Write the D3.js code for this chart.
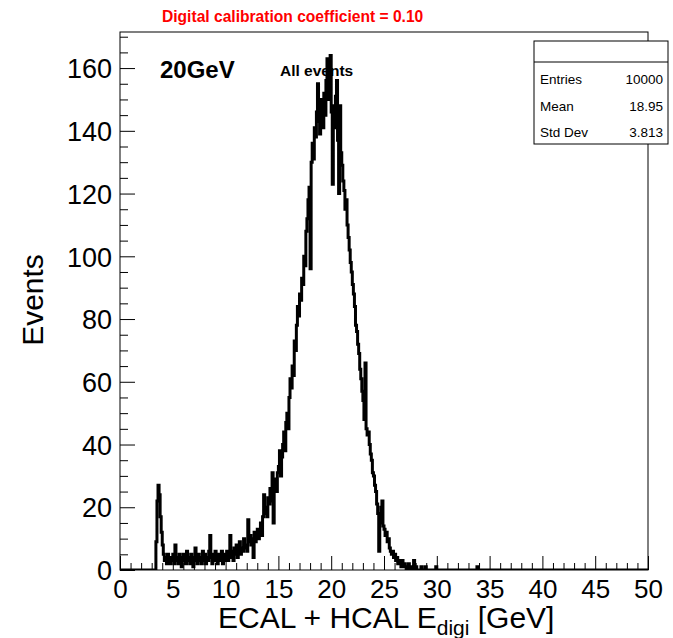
<!DOCTYPE html>
<html><head><meta charset="utf-8">
<script src="https://cdn.jsdelivr.net/npm/d3@7"></script>
<style>body{margin:0;background:#fff}svg text{font-family:"Liberation Sans",Arial,Helvetica,sans-serif}</style>
</head><body>
<svg id="c" width="673" height="638"></svg>
<script>
const titleText = "Digital calibration coefficient = 0.10";
const energyLabel = "20GeV";
const sampleLabel = "All events";
const xTitleMain = "ECAL + HCAL E";
const xTitleSub = "digi";
const xTitleUnit = " [GeV]";
const yTitle = "Events";
const xTickValues = [0,5,10,15,20,25,30,35,40,45,50];
const yTickValues = [0,20,40,60,80,100,120,140,160];
const statNames = ["Entries","Mean","Std Dev"];
const statValues = ["10000","18.95","3.813"];
const histRange = [0, 50];
const binWidth = 0.1;
const firstCountEdge = 3.0; // low edge (GeV) of counts[0]
const yMax = 171.5;
const counts = [
 0,0,0,0,9,22,27,24,17,12,
 8,5,3,4,2,5,3,2,4,3,
 5,2,8,3,4,2,5,3,1,4,
 5,3,2,6,3,4,2,5,3,1,
 4,7,3,2,5,3,4,2,6,3,
 5,2,4,3,6,11,4,2,5,3,
 6,4,2,5,3,4,6,2,5,3,
 4,6,3,5,11,4,6,3,7,5,
 8,4,6,9,5,7,6,10,7,8,
 6,16,9,11,8,10,4,12,9,11,
 13,10,12,15,11,17,24,18,20,17,
 23,21,26,22,31,15,27,29,25,31,
 33,38,30,36,40,44,38,47,50,45,
 55,61,58,65,62,73,70,78,84,81,
 88,86,93,91,100,97,108,112,118,122,
 96,130,136,131,141,138,146,155,143,139,
 150,147,141,152,145,156,163,150,158,164,
 146,123,148,141,151,156,137,120,148,133,
 129,124,121,115,118,110,106,102,98,95,
 91,88,84,78,76,72,69,64,61,57,
 54,48,66,45,43,44,40,37,35,31,
 30,27,25,21,18,6,15,20,22,14,
 13,11,12,9,10,7,6,5,6,4,
 5,3,4,2,3,2,1,3,1,2,
 1,0,1,2,0,1,0,0,3,0,
 1,0,0,0,0,1,0,0,0,1,
 0,0,0,0,0,0,0,0,0,1,
 0,0,0,0,0,0,0,0,0,0,
 0,0,0,0,0,0,0,0,0,0,
 0,0,0,0,0,0,0,0,0,0,
 0,0,0,0,0,0,0,0,1,0
];

const L = 120, R = 648, T = 32, B = 570;
const svg = d3.select("#c");
const x = d3.scaleLinear().domain(histRange).range([L, R]);
const y = d3.scaleLinear().domain([0, yMax]).range([B, T]);

// bins
const nBins = Math.round((histRange[1]-histRange[0])/binWidth);
const offset = Math.round((firstCountEdge-histRange[0])/binWidth);
const pts = [];
for (let i = 0; i < nBins; i++) {
  const j = i - offset;
  const v = (j >= 0 && j < counts.length) ? counts[j] : 0;
  pts.push([histRange[0] + i*binWidth, v]);
}
pts.push([histRange[1], pts[pts.length-1][1]]);

svg.append("clipPath").attr("id","clip").append("rect")
  .attr("x", L).attr("y", T).attr("width", R-L).attr("height", B-T);

const line = d3.line().x(d=>x(d[0])).y(d=>y(d[1])).curve(d3.curveStepAfter);
svg.append("path").attr("d", line(pts)).attr("clip-path","url(#clip)")
  .attr("fill","none").attr("stroke","#000").attr("stroke-width",3);

// frame
svg.append("rect").attr("x",L).attr("y",T).attr("width",R-L).attr("height",B-T)
  .attr("fill","none").attr("stroke","#000").attr("stroke-width",1);

// x axis
const minorX = d3.range(0, 51, 1).filter(v => v % 5 !== 0);
const gxMinor = svg.append("g").attr("transform",`translate(0,${B})`)
  .call(d3.axisBottom(x).tickValues(minorX).tickSize(-7).tickFormat(""));
const gx = svg.append("g").attr("transform",`translate(0,${B})`)
  .call(d3.axisBottom(x).tickValues(xTickValues).tickSize(-14).tickPadding(10).tickFormat(d3.format("d")));
[gx, gxMinor].forEach(g => { g.select(".domain").remove(); g.selectAll("line").attr("stroke","#000"); });
gx.selectAll("text").attr("font-size", 26).attr("fill","#000");

// y axis
const minorY = d3.range(0, 171, 5).filter(v => v % 20 !== 0);
const gyMinor = svg.append("g").attr("transform",`translate(${L},0)`)
  .call(d3.axisLeft(y).tickValues(minorY).tickSize(-8).tickFormat(""));
const gy = svg.append("g").attr("transform",`translate(${L},0)`)
  .call(d3.axisLeft(y).tickValues(yTickValues).tickSize(-15).tickPadding(8).tickFormat(d3.format("d")));
[gy, gyMinor].forEach(g => { g.select(".domain").remove(); g.selectAll("line").attr("stroke","#000"); });
gy.selectAll("text").attr("font-size", 27).attr("fill","#000").attr("dy","0.36em");

// titles
svg.append("text").attr("x",162).attr("y",22).attr("fill","#ff0000")
  .attr("font-weight","bold").attr("font-size",15.6).text(titleText);
svg.append("text").attr("x",160).attr("y",78).attr("font-weight","bold")
  .attr("font-size",24).text(energyLabel);
svg.append("text").attr("x",280).attr("y",76).attr("font-weight","bold")
  .attr("font-size",15.5).text(sampleLabel);

const xt = svg.append("text").attr("x",218).attr("y",628).attr("font-size",30);
xt.append("tspan").text(xTitleMain);
xt.append("tspan").attr("font-size",21).attr("dy",7).text(xTitleSub);
xt.append("tspan").attr("dy",-7).text(xTitleUnit);

svg.append("text").attr("transform","translate(43,300) rotate(-90)")
  .attr("text-anchor","middle").attr("font-size",30).text(yTitle);

// stats box
const bx = 534, by = 41, bw = 134, bh = 103;
svg.append("rect").attr("x",bx).attr("y",by).attr("width",bw).attr("height",bh)
  .attr("fill","#fff").attr("stroke","#000").attr("stroke-width",1);
svg.append("line").attr("x1",bx).attr("x2",bx+bw).attr("y1",62).attr("y2",62).attr("stroke","#000");
statNames.forEach((n,i) => {
  const yy = 84 + i*26.5;
  svg.append("text").attr("x",bx+6).attr("y",yy).attr("font-size",13.5).text(n);
  svg.append("text").attr("x",bx+bw-5).attr("y",yy).attr("font-size",13.5)
    .attr("text-anchor","end").text(statValues[i]);
});
</script>
</body></html>
